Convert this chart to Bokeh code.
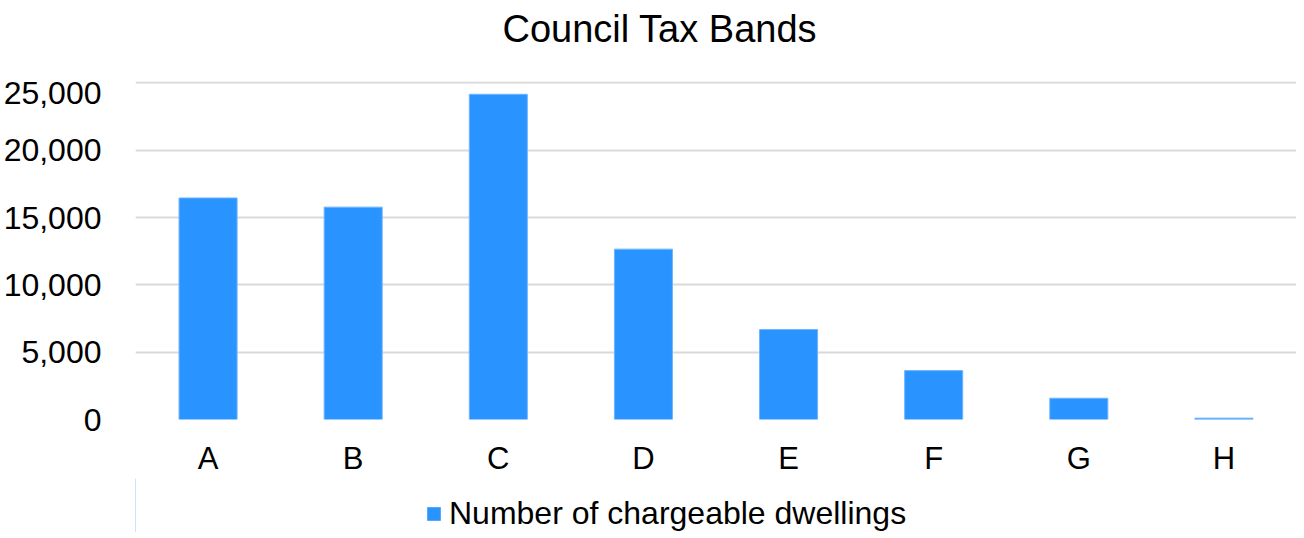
from bokeh.plotting import figure
from bokeh.layouts import column
from bokeh.models import ColumnDataSource, NumeralTickFormatter, Legend, LegendItem, FixedTicker
from bokeh.embed import file_html
from bokeh.resources import INLINE

bands = ["A", "B", "C", "D", "E", "F", "G", "H"]
dwellings = [16450, 15770, 24150, 12650, 6680, 3630, 1580, 100]
series_name = "Number of chargeable dwellings"
chart_title = "Council Tax Bands"
y_ticks = [0, 5000, 10000, 15000, 20000, 25000]

FONT = "Liberation Sans"
BAR_FILL = "#2994ff"
BAR_LINE = "#6fb4ff"
FRAME_W = 1161

# --- title strip ---
head = figure(frame_width=FRAME_W, frame_height=23, x_range=(0, 1), y_range=(0, 1),
              x_axis_location=None, y_axis_location=None,
              output_backend="svg", toolbar_location=None, min_border=0)
head.grid.grid_line_color = None
head.outline_line_color = None
head.title.text = chart_title
head.title.text_font = FONT
head.title.text_font_size = "38px"
head.title.text_font_style = "normal"
head.title.text_color = "#000000"
head.title.align = "left"
head.title.vertical_align = "top"
head.title.offset = 367
head.title.standoff = 14

# --- chart ---
src = ColumnDataSource(dict(band=bands, n=dwellings))
chart = figure(x_range=bands, y_range=(0, 25100),
               frame_width=FRAME_W, frame_height=338,
               output_backend="svg", toolbar_location=None, min_border=0)
chart.vbar(x="band", top="n", width=0.4, source=src,
           fill_color=BAR_FILL, line_color=BAR_LINE, line_width=1)
chart.xgrid.grid_line_color = None
chart.ygrid.grid_line_color = "#d9d9d9"
chart.ygrid.grid_line_width = 2
chart.yaxis.ticker = FixedTicker(ticks=y_ticks)
chart.yaxis.formatter = NumeralTickFormatter(format="0,0")
for ax in (chart.xaxis[0], chart.yaxis[0]):
    ax.axis_line_color = None
    ax.major_tick_line_color = None
    ax.minor_tick_line_color = None
    ax.major_label_text_font = FONT
    ax.major_label_text_color = "#000000"
chart.yaxis.major_label_text_font_size = "32px"
chart.xaxis.major_label_text_font_size = "31px"
chart.yaxis.major_label_standoff = 28
chart.xaxis.major_label_standoff = 15
chart.outline_line_color = None
chart.x_range.range_padding = 0

# --- legend strip ---
leg = figure(frame_width=FRAME_W, frame_height=54, x_range=(0, 1), y_range=(0, 1),
             x_axis_location=None, y_axis_location=None,
             output_backend="svg", toolbar_location=None, min_border=0)
leg.grid.grid_line_color = None
leg.outline_line_color = None
swatch = leg.vbar(x=[-5], top=[1], width=0.4, fill_color=BAR_FILL, line_color=None)
legend = Legend(items=[LegendItem(label=series_name, renderers=[swatch])],
                location=(425, 0), orientation="horizontal",
                label_text_font=FONT, label_text_font_size="32px",
                label_text_color="#000000", label_height=17,
                glyph_width=17, glyph_height=17, label_standoff=7,
                border_line_color=None, background_fill_alpha=0,
                margin=0, padding=0)
leg.add_layout(legend)

p = column(head, chart, leg, spacing=0)
open("out.html", "w").write(file_html(p, INLINE))
